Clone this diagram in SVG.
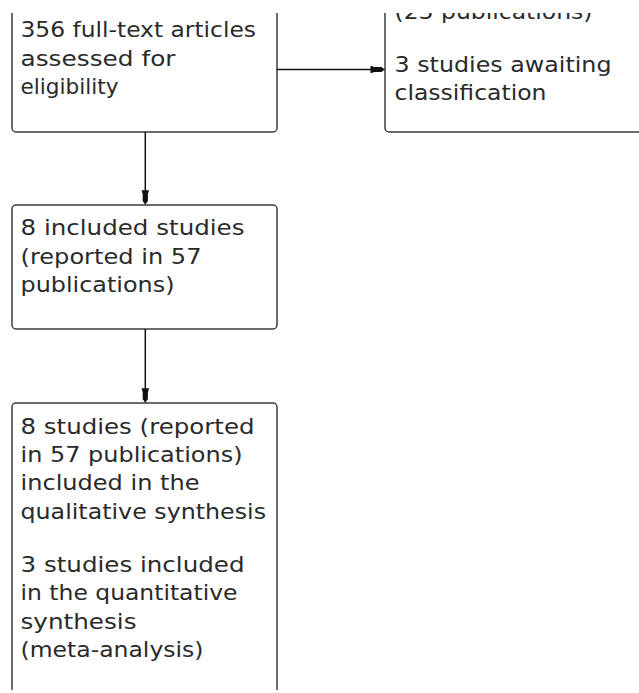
<svg xmlns="http://www.w3.org/2000/svg" width="639" height="693" viewBox="0 0 639 693">
<style>
.box{fill:#ffffff;stroke:#3c3c3c;stroke-width:1.5}
.t{font-family:"DejaVu Sans",Verdana,sans-serif;font-size:21.5px;fill:#2a2a2a}
.c{fill:none;stroke:#111111;stroke-width:1.5}
</style>
<defs>
<clipPath id="view"><rect x="0" y="13" width="639" height="677"/></clipPath>
<marker id="arr" markerUnits="userSpaceOnUse" markerWidth="16" markerHeight="10" viewBox="-15 -5 16 10" refX="0" refY="0" orient="auto">
<path d="M0,0 L-3,-2.6 L-10,-2.6 L-14,-3.8 L-14,3.8 L-10,2.6 L-3,2.6 Z" fill="#111111"/>
</marker>
</defs>
<rect width="639" height="693" fill="#ffffff"/>
<g clip-path="url(#view)">
<g id="node-assessed">
<rect class="box" x="12" y="-20" width="265" height="152" rx="4"/>
<text class="t" x="20.5" y="37" textLength="235.5" lengthAdjust="spacingAndGlyphs">356 full-text articles</text>
<text class="t" x="20.5" y="65.5" textLength="155" lengthAdjust="spacingAndGlyphs">assessed for</text>
<text class="t" x="20.5" y="94" textLength="98" lengthAdjust="spacingAndGlyphs">eligibility</text>
</g>
<g id="node-excluded">
<rect class="box" x="385" y="-40" width="300" height="172" rx="4"/>
<text class="t" x="394.5" y="18.5" textLength="198" lengthAdjust="spacingAndGlyphs">(23 publications)</text>
<text class="t" x="394.5" y="71.5" textLength="217" lengthAdjust="spacingAndGlyphs">3 studies awaiting</text>
<text class="t" x="394.5" y="99.5" textLength="152" lengthAdjust="spacingAndGlyphs">classification</text>
</g>
<g id="node-included">
<rect class="box" x="12" y="205" width="265" height="124" rx="4"/>
<text class="t" x="20.5" y="235" textLength="224" lengthAdjust="spacingAndGlyphs">8 included studies</text>
<text class="t" x="20.5" y="263.5" textLength="181" lengthAdjust="spacingAndGlyphs">(reported in 57</text>
<text class="t" x="20.5" y="292" textLength="154" lengthAdjust="spacingAndGlyphs">publications)</text>
</g>
<g id="node-synthesis">
<rect class="box" x="12" y="403" width="265" height="300" rx="4"/>
<text class="t" x="20.5" y="433.5" textLength="234" lengthAdjust="spacingAndGlyphs">8 studies (reported</text>
<text class="t" x="20.5" y="462" textLength="222" lengthAdjust="spacingAndGlyphs">in 57 publications)</text>
<text class="t" x="20.5" y="490" textLength="179" lengthAdjust="spacingAndGlyphs">included in the</text>
<text class="t" x="20.5" y="518.5" textLength="245.5" lengthAdjust="spacingAndGlyphs">qualitative synthesis</text>
<text class="t" x="20.5" y="571.5" textLength="224" lengthAdjust="spacingAndGlyphs">3 studies included</text>
<text class="t" x="20.5" y="600" textLength="217" lengthAdjust="spacingAndGlyphs">in the quantitative</text>
<text class="t" x="20.5" y="628.5" textLength="116" lengthAdjust="spacingAndGlyphs">synthesis</text>
<text class="t" x="20.5" y="656.5" textLength="183" lengthAdjust="spacingAndGlyphs">(meta-analysis)</text>
</g>
<g id="connectors">
<line class="c" x1="277" y1="69.5" x2="384.5" y2="69.5" marker-end="url(#arr)"/>
<line class="c" x1="145.3" y1="132" x2="145.3" y2="204.3" marker-end="url(#arr)"/>
<line class="c" x1="145.3" y1="329" x2="145.3" y2="402.3" marker-end="url(#arr)"/>
</g>
</g>
</svg>
